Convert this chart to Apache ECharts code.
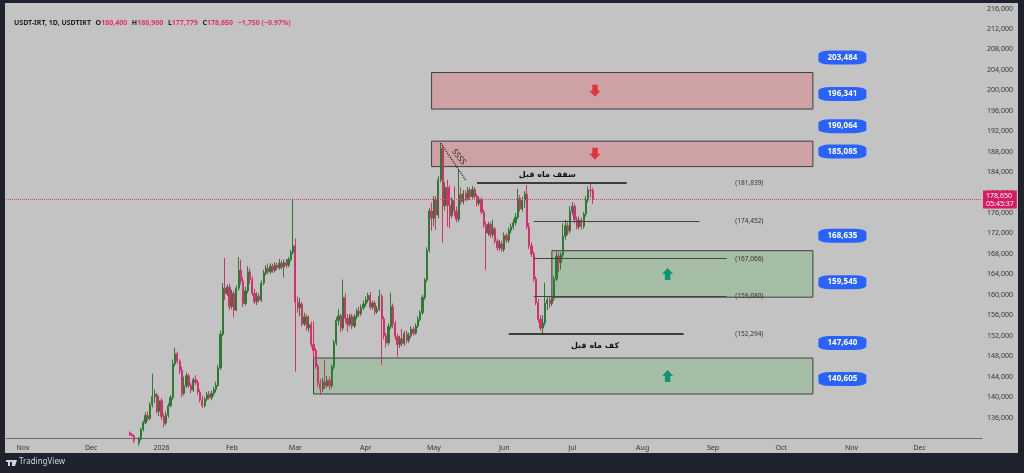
<!DOCTYPE html>
<html>
<head>
<meta charset="utf-8">
<script src="https://cdn.jsdelivr.net/npm/echarts@6/dist/echarts.min.js"></script>
<style>
  html, body { margin: 0; padding: 0; background: #1e222d; }
  #panel { position: absolute; left: 5px; top: 3px; width: 1013px; height: 450px; background: #c3c3c3; }
  #chart { position: absolute; left: 0; top: 0; width: 1024px; height: 473px; }
</style>
</head>
<body>
<div id="panel"></div>
<div id="chart"></div>
<script>
// daily candles, one row per day: [open, close, low, high]
var dec25 = [
  [133000,132600,132400,133300],[132700,132400,132300,133000],[132400,131500,131000,132700],
  [131500,131000,130400,131900],[131000,131800,130500,132200],[131800,133700,131500,134000],
  [133700,135000,133300,135400],[135000,136400,134700,137000],[136400,135800,135300,137200],
  [135800,138500,135500,139000],[138500,140100,138000,144600],[140100,140500,138800,141500],
  [140500,137200,136800,140800],[137200,139300,136300,140200]
];
var jan26 = [
  [139300,136200,135500,139800],[136200,134900,134100,136800],[134900,136500,134500,137200],
  [136500,138300,136000,138800],[138300,139900,138000,140400],[139900,146500,139500,147300],
  [146500,148500,146000,149700],[148500,147000,146500,148900],[147000,145200,144500,147400],
  [145200,140700,140000,146000],[140700,142200,140300,144000],[142200,144200,141800,144800],
  [144200,142300,141800,144600],[142300,141400,140800,142800],[141400,143400,141000,143800],
  [143400,142800,142300,144300],[142800,141000,140500,143300],[141000,139500,139000,141500],
  [139500,138300,137900,140300],[138300,139600,138000,140000],[139600,140500,139200,141000],
  [140500,139900,139500,141200],[139900,140700,139400,141300],[140700,141500,140200,142000],
  [141500,142300,140900,143000],[142300,145700,142000,146300],[145700,152300,145300,153000],
  [152300,161300,151900,162300],[161300,160200,159000,167200],[160200,161500,159800,162000],
  [161500,157700,157000,162200]
];
var feb26 = [
  [157700,160300,157200,161000],[160300,157000,155600,160800],[157000,161300,156800,161800],
  [161300,164800,160800,167400],[164800,162700,162000,166900],[162700,158300,157600,163500],
  [158300,160800,157900,161600],[160800,164500,160300,165600],[164500,163000,162200,165200],
  [163000,160300,159800,163600],[160300,158700,158200,161200],[158700,159700,158000,160500],
  [159700,159000,158400,160300],[159000,162300,158600,162800],[162300,164300,161900,164900],
  [164300,165200,163800,165800],[165200,164500,164000,166100],[164500,165600,164100,166200],
  [165600,164800,164300,166100],[164800,165800,164400,166400],[165800,165300,164800,166300],
  [165300,166200,164900,167000],[166200,165500,165000,166700],[165500,166300,163400,166900],
  [166300,165800,165200,167000],[165800,166900,165400,167400],[166900,168300,166500,168800],
  [168300,169600,167900,178900]
];
var mar26 = [
  [169600,158600,145000,171000],[158600,157500,156500,159700],[157500,158200,155800,159400],
  [158200,154300,153800,158600],[154300,155700,153900,156500],[155700,153500,153000,156200],
  [153500,154200,152700,155900],[154200,150300,149700,154800],[150300,149100,147400,154800],
  [149100,146000,145500,149600],[146000,142800,142000,146500],[142800,141600,140500,143500],
  [141600,143000,141000,143800],[143000,142200,141600,147300],[142200,143300,141800,144200],
  [143300,142200,141400,144000],[142200,145900,141700,146400],[145900,150600,145400,151200],
  [150600,155000,150100,155600],[155000,155900,154000,157200],[155900,153500,152700,156300],
  [153500,159500,153000,163000],[159500,155400,154500,160300],[155400,154200,152800,156200],
  [154200,155800,153800,156300],[155800,153900,153300,156300],[153900,155700,153500,156300],
  [155700,156800,155200,157300],[156800,156300,155700,157700],[156300,157500,155900,158100],
  [157500,158200,157000,158900]
];
var apr26 = [
  [158200,159000,157700,159700],[159000,159900,158500,160400],[159900,157600,157100,160500],
  [157600,158400,157100,158900],[158400,156700,156100,158900],[156700,157200,156300,157800],
  [157200,159700,156800,161000],[159700,155300,146300,160200],[155300,152000,151300,155800],
  [152000,150600,149700,152600],[150600,153800,150100,154400],[153800,157700,153300,160400],
  [157700,154300,153500,158300],[154300,151800,151200,154900],[151800,150300,147900,152400],
  [150300,151400,149600,152000],[151400,150500,149900,153300],[150500,152400,150000,152900],
  [152400,151100,150500,153000],[151100,152000,150600,152600],[152000,153300,151600,153900],
  [153300,152500,152000,153800],[152500,153900,152200,154400],[153900,155200,153500,155800],
  [155200,156500,154800,157000],[156500,159500,156100,160000],[159500,162900,159000,163300],
  [162900,168700,162500,169300],[168700,176400,168300,177000],[176400,175000,172500,178000]
];
var may26 = [
  [175000,178600,173400,179300],[178600,175600,172700,179300],[175600,182500,175000,183200],
  [182500,188600,182000,189700],[188600,177400,170200,189400],[177400,181000,176500,182000],
  [181000,177500,173300,182500],[177500,175500,173000,181400],[175500,178500,175000,179100],
  [178500,176400,175300,181200],[176400,174800,174200,177300],[174800,179600,174300,184400],
  [179600,178200,177600,181000],[178200,179800,177700,180500],[179800,178900,178300,180400],
  [178900,180500,178400,181100],[180500,179200,178600,181000],[179200,180600,178800,181300],
  [180600,179300,178800,181100],[179300,177900,177300,179800],[177900,178700,177400,179300],
  [178700,176200,175700,179000],[176200,173700,173100,176700],[173700,172100,164900,174300],
  [172100,173800,171500,174300],[173800,171800,171200,174200],[171800,172900,171200,174700],
  [172900,170500,170000,173300],[170500,169200,168600,171000],[169200,170000,168700,170700],
  [170000,168900,168400,170600]
];
var jun26 = [
  [168900,171600,168400,172200],[171600,170700,170100,172100],[170700,172600,170200,173200],
  [172600,173300,172000,174000],[173300,174100,172800,174800],[174100,175200,173600,176000],
  [175200,178900,174800,180700],[178900,176800,176300,179500],[176800,178500,176300,179200],
  [178500,179700,177000,180300],[179700,173300,172800,181500],[173300,169600,169000,174100],
  [169600,168000,167400,170300],[168000,163100,162600,168500],[163100,158500,158000,163600],
  [158500,155200,154600,159200],[155200,153500,153000,156000],[153500,154500,152294,156000],
  [154500,158300,154000,162400],[158300,159000,157000,159800],[159000,158300,157400,159700],
  [158300,159300,157800,160000],[159300,163100,158800,163700],[163100,167600,162700,168500],
  [167600,166300,164500,168400],[166300,167800,164900,168300],[167800,171500,167300,174000],
  [171500,173500,170800,174700],[173500,172500,171700,174200],[172500,176400,172000,177400]
];
var jul26 = [
  [176400,177300,175600,178100],[177300,174700,174000,177800],[174700,173300,172800,175300],
  [173300,174600,172800,175300],[174600,173400,172800,175100],[173400,175800,173000,176200],
  [175800,178600,175300,179300],[178600,180500,178100,181200],[180500,180400,179100,181800],
  [180400,178650,177779,180900]
];

var firstCandle = '2025-12-18';
var axisStart = '2025-10-25';
var axisDays = 430;
var monthNames = ['Jan', 'Feb', 'Mar', 'Apr', 'May', 'Jun', 'Jul', 'Aug', 'Sep', 'Oct', 'Nov', 'Dec'];

var supplyZones = [[203484, 196341], [190064, 185085]];
var demandZones = [[168635, 159545], [147640, 140605]];
var lastPrice = 178650;
var lastTimer = '05:45:37';
// horizontal levels: [price, from, to]
var levels = [
  [181839, '2026-05-20', '2026-07-25'],
  [174452, '2026-06-14', '2026-08-26'],
  [167066, '2026-06-14', '2026-09-07'],
  [159680, '2026-06-14', '2026-09-07'],
  [152294, '2026-06-03', '2026-08-19']
];

function dayStr(start, n) {
  var p = start.split('-');
  var d = new Date(Date.UTC(+p[0], +p[1] - 1, +p[2]) + n * 864e5);
  return d.toISOString().slice(0, 10);
}
function fmt(v) { return v.toLocaleString('en-US'); }

var categories = [];
for (var i = 0; i < axisDays; i++) categories.push(dayStr(axisStart, i));

var candles = dec25.concat(jan26, feb26, mar26, apr26, may26, jun26, jul26);
var off = categories.indexOf(firstCandle);
var seriesData = categories.map(function (c, i) {
  return (i >= off && i < off + candles.length) ? candles[i - off] : '-';
});

var chart = echarts.init(document.getElementById('chart'));

var zoneEnd = '2026-10-15';
var tagDate = '2026-10-28';
var upArrow = 'path://M5,0 L10,5 L7.5,5 L7.5,10 L2.5,10 L2.5,5 L0,5 Z';
var downArrow = 'path://M2.5,0 L7.5,0 L7.5,5 L10,5 L5,10 L0,5 L2.5,5 Z';
var hidden = { color: 'rgba(0,0,0,0)' };

var areas = [];
var points = [];
supplyZones.forEach(function (z) {
  areas.push([{ xAxis: '2026-04-30', yAxis: z[0], itemStyle: { color: 'rgba(240,60,75,0.25)', borderColor: '#3e3e3e', borderWidth: 1 } },
              { xAxis: zoneEnd, yAxis: z[1] }]);
  points.push({ coord: ['2026-07-11', (z[0] + z[1]) / 2], symbol: downArrow, symbolSize: [11, 12], itemStyle: { color: '#e0323f' }, label: { show: false } });
});
demandZones.forEach(function (z, k) {
  areas.push([{ xAxis: k === 0 ? '2026-06-22' : '2026-03-09', yAxis: z[0], itemStyle: { color: 'rgba(80,170,80,0.25)', borderColor: '#3e3e3e', borderWidth: 1 } },
              { xAxis: zoneEnd, yAxis: z[1] }]);
  points.push({ coord: ['2026-08-12', (z[0] + z[1]) / 2], symbol: upArrow, symbolSize: [11, 12], itemStyle: { color: '#0a9777' }, label: { show: false } });
});
supplyZones.concat(demandZones).forEach(function (z) {
  z.forEach(function (v) {
    points.push({
      coord: [tagDate, v], symbol: 'roundRect', symbolSize: [48, 14], symbolOffset: [0, -15],
      itemStyle: { color: '#2962ff' },
      label: { show: true, formatter: fmt(v), color: '#fff', fontWeight: 'bold', fontSize: 8, fontFamily: 'Noto Sans' }
    });
  });
});

var lines = [];
levels.forEach(function (l, k) {
  var strong = (k === 0 || k === 4);
  lines.push([{ coord: [l[1], l[0]], lineStyle: { color: strong ? '#111' : '#444', width: strong ? 1.5 : 1, type: 'solid' } },
              { coord: [l[2], l[0]] }]);
  points.push({
    coord: ['2026-09-17', l[0]], symbol: 'rect', symbolSize: 1, itemStyle: hidden,
    label: { show: true, formatter: '(' + fmt(l[0]) + ')', color: '#333', fontSize: 6.5, fontFamily: 'Noto Sans' }
  });
});
lines.push([{ coord: ['2026-05-04', 189700], lineStyle: { color: '#222', width: 1.2, type: 'dotted' } },
            { coord: ['2026-05-15', 182464] }]);
lines.push({
  yAxis: lastPrice, lineStyle: { color: '#e0406f', width: 1, type: 'dotted' },
  label: {
    show: true, position: 'end', distance: 1, formatter: fmt(lastPrice) + '\n' + lastTimer,
    color: '#fff', backgroundColor: '#d81b60', fontSize: 7, lineHeight: 8, padding: [1, 3], fontFamily: 'Noto Sans'
  }
});

points.push({
  coord: ['2026-06-20', 181839], symbol: 'rect', symbolSize: 1, itemStyle: hidden,
  label: { show: true, formatter: 'سقف ماه قبل', offset: [0, -8], color: '#111', fontWeight: 'bold', fontSize: 8, fontFamily: 'DejaVu Sans' }
});
points.push({
  coord: ['2026-07-11', 152294], symbol: 'rect', symbolSize: 1, itemStyle: hidden,
  label: { show: true, formatter: 'کف ماه قبل', offset: [0, 12], color: '#111', fontWeight: 'bold', fontSize: 8, fontFamily: 'DejaVu Sans' }
});
points.push({
  coord: ['2026-05-12', 186963], symbol: 'rect', symbolSize: 1, itemStyle: hidden,
  label: { show: true, formatter: 'SSSS', rotate: -52, color: '#222', fontSize: 8, fontFamily: 'Noto Sans' }
});

var option = {
  animation: false,
  textStyle: { fontFamily: 'Noto Sans' },
  title: {
    left: 9, top: 9,
    text: '{a|USDT-IRT, 1D, USDTIRT} {a|O}{c|180,400} {a|H}{c|180,900} {a|L}{c|177,779} {a|C}{c|178,650} {c|−1,750 (−0.97%)}',
    textStyle: {
      rich: {
        a: { color: '#222', fontSize: 7, fontFamily: 'Noto Sans' },
        c: { color: '#e0306e', fontSize: 7, fontFamily: 'Noto Sans' }
      }
    }
  },
  grid: { left: 6, right: 42, top: 5, bottom: 35 },
  xAxis: {
    type: 'category', data: categories, boundaryGap: true,
    axisLine: { lineStyle: { color: '#6a6a6a', width: 1 } },
    axisTick: { show: false },
    splitLine: { show: false },
    axisLabel: {
      color: '#333', fontSize: 7, margin: 6,
      interval: function (idx, v) { return v.slice(8) === '01'; },
      formatter: function (v) {
        var m = +v.slice(5, 7);
        return m === 1 ? v.slice(0, 4) : monthNames[m - 1];
      }
    }
  },
  yAxis: {
    type: 'value', position: 'right', min: 132000, max: 216694, interval: 4000,
    axisLine: { show: false }, axisTick: { show: false }, splitLine: { show: false },
    axisLabel: {
      color: '#333', fontSize: 7, margin: 5,
      formatter: function (v) { return (v % 4000 === 0 && v > 132000) ? fmt(v) : ''; }
    }
  },
  series: [{
    type: 'candlestick',
    data: seriesData,
    barWidth: 1.7,
    clip: true,
    itemStyle: { color: '#2b7b34', color0: '#d6306c', borderColor: '#2b7b34', borderColor0: '#d6306c', borderWidth: 1 },
    markArea: { silent: true, data: areas },
    markLine: { silent: true, symbol: ['none', 'none'], label: { show: false }, data: lines },
    markPoint: { silent: true, data: points }
  }],
  graphic: [
    { type: 'rect', left: 6, top: 460, shape: { width: 6, height: 2 }, style: { fill: '#d1d4dc' } },
    { type: 'rect', left: 8, top: 460, shape: { width: 2, height: 6 }, style: { fill: '#d1d4dc' } },
    { type: 'polygon', shape: { points: [[12, 460], [17, 460], [15, 466], [12, 466]] }, style: { fill: '#d1d4dc' } },
    { type: 'text', left: 19, top: 458, style: { text: 'TradingView', fill: '#d1d4dc', fontSize: 8, fontFamily: 'Noto Sans' } }
  ]
};

chart.setOption(option);
</script>
</body>
</html>
